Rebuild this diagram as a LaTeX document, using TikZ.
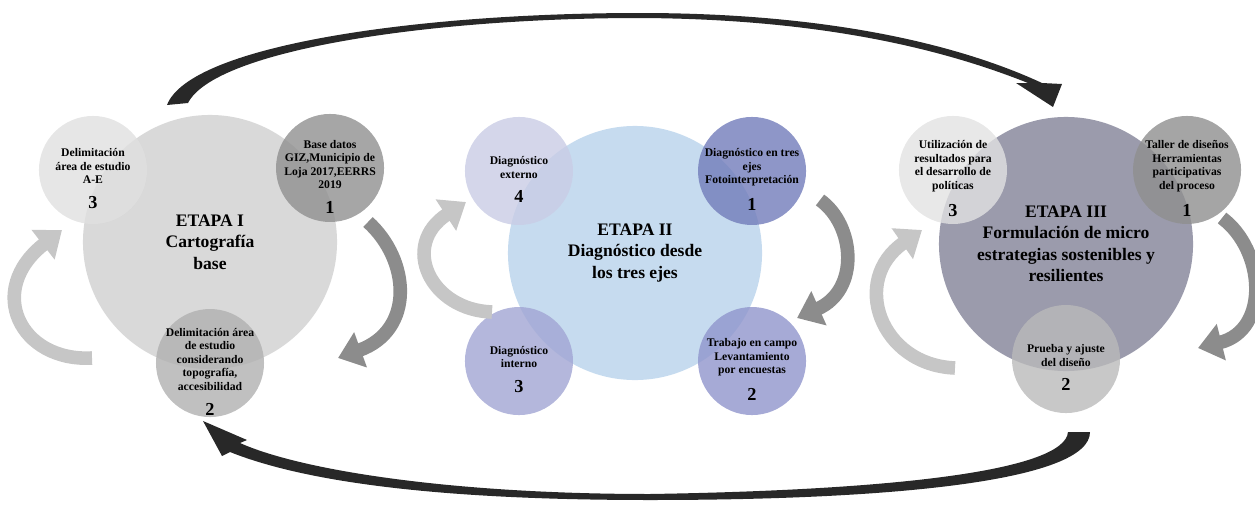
\documentclass[tikz,border=0pt]{standalone}
\usepackage{fontspec}
\setmainfont{Liberation Serif}
\usetikzlibrary{positioning,arrows.meta}

\definecolor{grisI}{RGB}{207,207,207}
\definecolor{grisIa}{RGB}{224,224,224}
\definecolor{grisIb}{RGB}{144,144,144}
\definecolor{grisIc}{RGB}{176,176,176}
\definecolor{azulII}{RGB}{184,210,235}
\definecolor{lilaIIa}{RGB}{201,204,229}
\definecolor{lilaIIb}{RGB}{114,124,186}
\definecolor{lilaIIc}{RGB}{161,165,211}
\definecolor{lilaIId}{RGB}{144,149,204}
\definecolor{pizarraIII}{RGB}{130,130,151}
\definecolor{grisIIIa}{RGB}{226,226,226}
\definecolor{grisIIIb}{RGB}{143,143,143}
\definecolor{grisIIIc}{RGB}{186,186,186}
\definecolor{flechaclara}{RGB}{198,198,198}
\definecolor{flechaoscura}{RGB}{140,140,140}
\definecolor{flechanegra}{RGB}{40,40,40}

\newcommand{\cab}{\rule{0pt}{18pt}}
\newcommand{\numpaso}[1]{\\[8pt]{\fontsize{13}{13}\selectfont #1}}

\tikzset{
  etapa/.style={circle, minimum size=6.35cm, inner sep=0pt, align=center,
    fill opacity=0.8, text opacity=1, font=\bfseries\fontsize{12.5}{15.3}\selectfont},
  paso/.style={circle, minimum size=2.7cm, inner sep=-16pt, align=center, on grid,
    fill opacity=0.8, text opacity=1, font=\bfseries\fontsize{8.3}{9.6}\selectfont},
  giro/.style={line width=0.34cm, -{Triangle[width=0.9cm,length=0.6cm]}},
}

\begin{document}
\begin{tikzpicture}[x=0.025cm, y=0.025cm]
	\useasboundingbox (0,0) rectangle (1255,-506);

	% etapa I
	\node[etapa, fill=grisI] (etapaI) at (210,-242) {ETAPA I\\Cartografía\\base};
	\node[paso, fill=grisIa, above left=1.8cm and 2.925cm of etapaI] (u3)
		{\cab Delimitación\\área de estudio\\A-E\numpaso{3}};
	\node[paso, fill=grisIb, above right=1.85cm and 3cm of etapaI] (u1)
		{\cab Base datos\\GIZ,Municipio de\\Loja 2017,EERRS\\2019\numpaso{1}};
	\node[paso, fill=grisIc, below=3.025cm of etapaI] (u2)
		{\cab Delimitación área\\de estudio\\considerando\\topografía,\\accesibilidad\numpaso{2}};

	% etapa II
	\node[etapa, fill=azulII] (etapaII) at (635,-253) {ETAPA II\\Diagnóstico desde\\los tres ejes};
	\node[paso, fill=lilaIIa, above left=2.05cm and 2.9cm of etapaII] (d4)
		{\cab Diagnóstico\\externo\numpaso{4}};
	\node[paso, fill=lilaIIb, above right=2.05cm and 2.925cm of etapaII] (d1)
		{\cab Diagnóstico en tres\\ejes\\Fotointerpretación\numpaso{1}};
	\node[paso, fill=lilaIIc, below left=2.7cm and 2.9cm of etapaII] (d3)
		{\cab Diagnóstico\\interno\numpaso{3}};
	\node[paso, fill=lilaIId, below right=2.7cm and 2.925cm of etapaII] (d2)
		{\cab Trabajo en campo\\Levantamiento\\por encuestas\numpaso{2}};

	% etapa III
	\node[etapa, fill=pizarraIII] (etapaIII) at (1066,-244)
		{ETAPA III\\Formulación de micro\\estrategias sostenibles y\\resilientes};
	\node[paso, fill=grisIIIa, above left=1.85cm and 2.825cm of etapaIII] (f3)
		{\cab Utilización de\\resultados para\\el desarrollo de\\políticas\numpaso{3}};
	\node[paso, fill=grisIIIb, above right=1.85cm and 3.025cm of etapaIII] (f1)
		{\cab Taller de diseños\\Herramientas\\participativas\\del proceso\numpaso{1}};
	\node[paso, fill=grisIIIc, below=2.875cm of etapaIII] (f2)
		{\cab Prueba y ajuste\\del diseño\numpaso{2}};

	% extremos de los giros
	\coordinate (gIa) at (368,-222);  \coordinate (gIb) at (338,-358);
	\coordinate (gIc) at (92,-358);   \coordinate (gId) at (62,-230);
	\coordinate (gIIa) at (820,-200); \coordinate (gIIb) at (797,-318);
	\coordinate (gIIc) at (492,-312); \coordinate (gIId) at (466,-202);
	\coordinate (gIIIa) at (1222,-218); \coordinate (gIIIb) at (1198,-348);
	\coordinate (gIIIc) at (955,-368);  \coordinate (gIIId) at (922,-230);

	\draw[giro, flechaoscura] (gIa) .. controls (410,-260) and (415,-330) .. (gIb);
	\draw[giro, flechaclara] (gIc) .. controls (20,-362) and (-15,-290) .. (gId);
	\draw[giro, flechaoscura] (gIIa) .. controls (855,-225) and (860,-290) .. (gIIb);
	\draw[giro, flechaclara] (gIIc) .. controls (430,-310) and (400,-245) .. (gIId);
	\draw[giro, flechaoscura] (gIIIa) .. controls (1265,-250) and (1270,-330) .. (gIIIb);
	\draw[giro, flechaclara] (gIIIc) .. controls (880,-365) and (850,-280) .. (gIIId);

	% flechas grandes entre etapas
	\fill[flechanegra] (167,-105) .. controls (190,-45) and (420,-13) .. (640,-13)
		.. controls (830,-13) and (960,-45) .. (1042,-83)
		-- (1062,-84) -- (1053,-107) -- (1016,-83) -- (1028,-83)
		.. controls (950,-52) and (830,-19) .. (640,-18)
		.. controls (430,-18) and (215,-50) .. (188,-103) -- cycle;
	\fill[flechanegra] (1068,-432) .. controls (1065,-470) and (900,-490) .. (650,-494)
		.. controls (450,-494) and (300,-470) .. (240,-443)
		-- (247,-440) -- (203,-421) -- (222,-456) -- (230,-452)
		.. controls (310,-484) and (450,-500) .. (650,-500)
		.. controls (900,-500) and (1090,-480) .. (1090,-432) -- cycle;
\end{tikzpicture}
\end{document}
